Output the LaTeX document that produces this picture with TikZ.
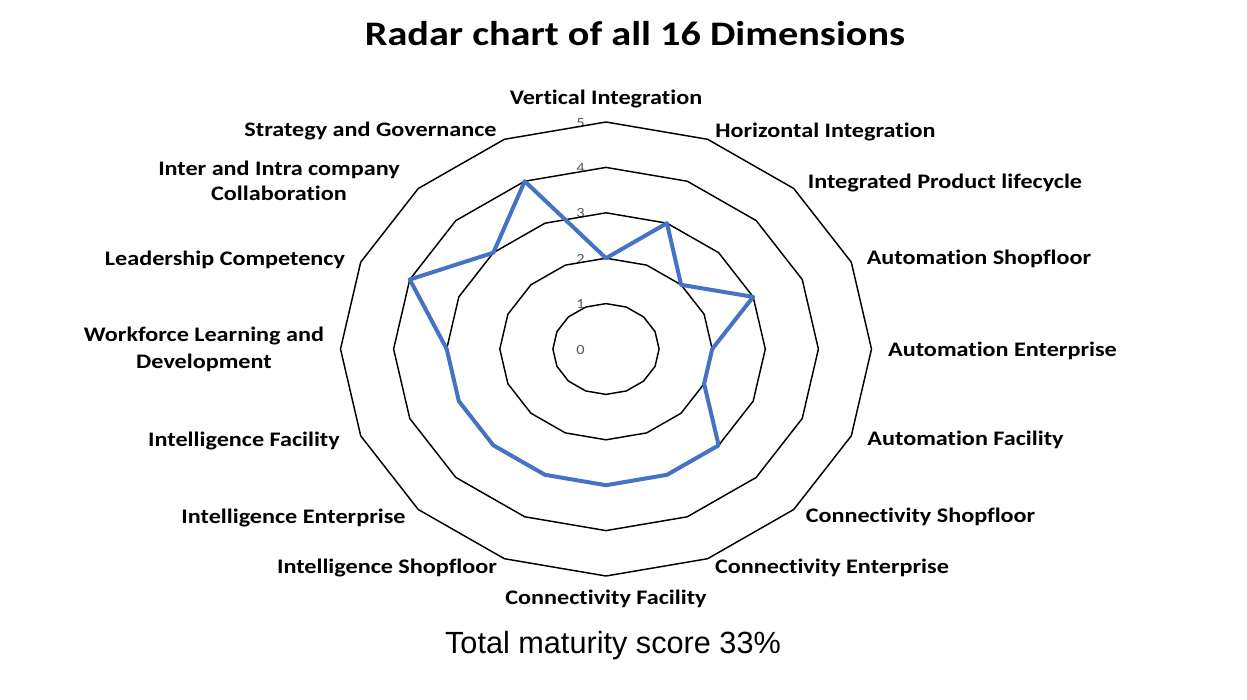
\documentclass[tikz,border=0pt]{standalone}
\usepackage{fontspec}
\setmainfont{Carlito}[Ligatures={NoCommon}]
\newfontfamily\arialfont{Liberation Sans}
\definecolor{serblue}{RGB}{68,114,196}
\definecolor{axgrey}{RGB}{89,89,89}
\begin{document}
\begin{tikzpicture}[x=0.75pt,y=-0.75pt,
  lbl/.style={font=\fontsize{15.5}{18}\selectfont\bfseries, xscale=1.17, inner sep=0pt, anchor=base},
  ttl/.style={font=\fontsize{25.8}{30}\selectfont\bfseries, xscale=1.17, inner sep=0pt, anchor=base},
  ring/.style={black, line width=1.1pt, line join=round},
  series/.style={serblue, line width=3pt, line join=round},
  tick/.style={font=\fontsize{10.5}{12}\selectfont, text=axgrey, xscale=1.17, inner sep=0pt, anchor=base east}]
\useasboundingbox (0,0) rectangle (1247,700);
\fill[white] (0,0) rectangle (1247,700);

% axis value labels
\foreach \v in {0,...,5} {
  \node[tick] (t\v) at (585,{349-45.4*\v+5}) {\v};
}

\begin{scope}[shift={(606,349)}, xscale=53.1, yscale=-45.4]
  \foreach \r in {1,...,5} {
    \draw[ring] (90:\r) \foreach \k in {1,...,15} { -- ({90-22.5*\k}:\r) } -- cycle;
  }
  \draw[series] (90:2) -- (67.5:3) -- (45:2) -- (22.5:3) -- (0:2) -- (-22.5:2)
    -- (-45:3) -- (-67.5:3) -- (-90:3) -- (-112.5:3) -- (-135:3) -- (-157.5:3)
    -- (180:3) -- (157.5:4) -- (135:3) -- (112.5:4) -- cycle;
\end{scope}

\node[ttl] (title) at (635,45) {Radar chart of all 16 Dimensions};

\node[lbl] (vi) at (606,104.5) {Vertical Integration};
\node[lbl] (hi) at (825.5,137) {Horizontal Integration};
\node[lbl] (ipl) at (945,188) {Integrated Product lifecycle};
\node[lbl] (as) at (979,264) {Automation Shopfloor};
\node[lbl] (ae) at (1002.5,356) {Automation Enterprise};
\node[lbl] (af) at (965.5,445.5) {Automation Facility};
\node[lbl] (cs) at (920.5,522.5) {Connectivity Shopfloor};
\node[lbl] (ce) at (832,573) {Connectivity Enterprise};
\node[lbl] (cf) at (606,604) {Connectivity Facility};
\node[lbl] (is) at (387,573) {Intelligence Shopfloor};
\node[lbl] (ie) at (293.5,523) {Intelligence Enterprise};
\node[lbl] (if) at (244,446) {Intelligence Facility};
\node[lbl] (wld1) at (204,341.7) {Workforce Learning and};
\node[lbl] (wld2) at (204,368) {Development};
\node[lbl] (lc) at (225,265) {Leadership Competency};
\node[lbl] (iic1) at (279,175.7) {Inter and Intra company};
\node[lbl] (iic2) at (279,200.7) {Collaboration};
\node[lbl] (sg) at (370.5,136.7) {Strategy and Governance};

\node[font=\arialfont\fontsize{23}{28}\selectfont, inner sep=0pt, anchor=base] (score) at (613,653) {Total maturity score 33\%};
\end{tikzpicture}
\end{document}
